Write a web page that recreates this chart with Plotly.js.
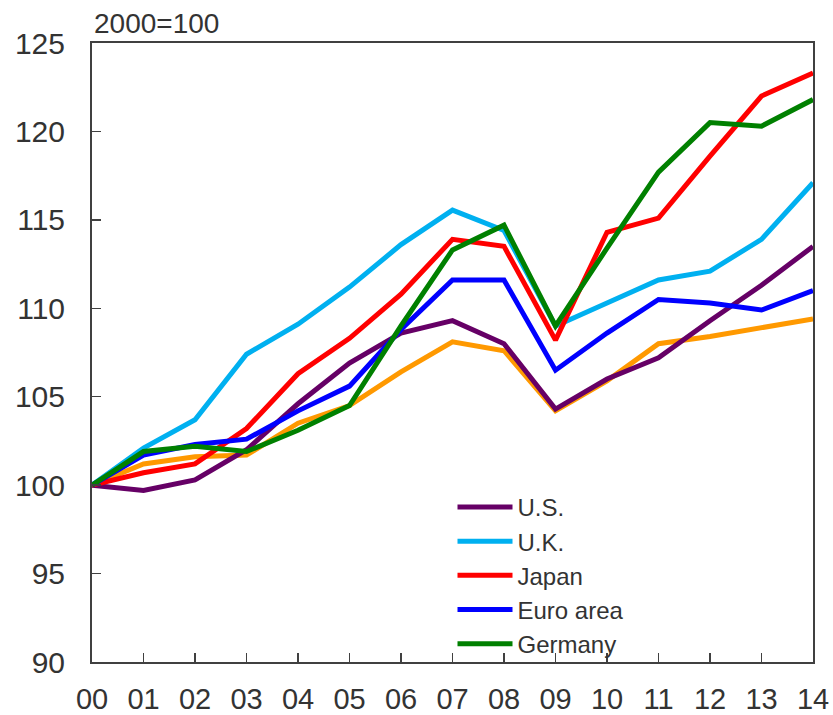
<!DOCTYPE html>
<html>
<head>
<meta charset="utf-8">
<script src="https://cdn.plot.ly/plotly-3.0.1.min.js"></script>
<style>html,body{margin:0;padding:0;background:#fff;}#chart{width:833px;height:715px;}</style>
</head>
<body>
<div id="chart"></div>
<script>
const years = ["00","01","02","03","04","05","06","07","08","09","10","11","12","13","14"];
const us      = [100, 99.7, 100.3, 102.0, 104.6, 106.9, 108.6, 109.3, 108.0, 104.3, 106.0, 107.2, 109.3, 111.3, 113.5];
const uk      = [100, 102.1, 103.7, 107.4, 109.1, 111.2, 113.6, 115.55, 114.4, 109.0, 110.3, 111.6, 112.1, 113.9, 117.1];
const japan   = [100, 100.7, 101.2, 103.2, 106.3, 108.3, 110.8, 113.9, 113.5, 108.2, 114.3, 115.1, 118.6, 122.0, 123.3];
const euro    = [100, 101.7, 102.3, 102.6, 104.2, 105.6, 108.8, 111.6, 111.6, 106.5, 108.6, 110.5, 110.3, 109.9, 111.0];
const germany = [100, 101.9, 102.2, 101.9, 103.1, 104.5, 109.0, 113.3, 114.7, 109.0, 113.4, 117.7, 120.5, 120.3, 121.8];
const other   = [100, 101.2, 101.6, 101.7, 103.5, 104.5, 106.4, 108.1, 107.6, 104.2, 105.9, 108.0, 108.4, 108.9, 109.4];
const names = ["U.S.", "U.K.", "Japan", "Euro area", "Germany"];
const yTicks = [90, 95, 100, 105, 110, 115, 120, 125];

const colors = ["#660066", "#00B0F0", "#FF0000", "#0000FF", "#008000", "#FF9900"];
const series = [us, uk, japan, euro, germany];

const traces = [];
traces.push({x: years, y: other, type: "scatter", mode: "lines", showlegend: false,
  line: {color: colors[5], width: 5}});
series.forEach((s, i) => {
  traces.push({x: years, y: s, type: "scatter", mode: "lines", name: names[i],
    line: {color: colors[i], width: 5}});
});
const layout = {
  width: 833, height: 715,
  margin: {l: 92, r: 20, t: 43, b: 53},
  paper_bgcolor: "#fff", plot_bgcolor: "#fff",
  font: {family: "Liberation Sans, Arial, sans-serif", color: "#333", size: 26},
  showlegend: true,
  legend: {x: 0.5, y: 0.14, xanchor: "left", yanchor: "middle", bgcolor: "rgba(0,0,0,0)",
    font: {size: 24, color: "#333"}, tracegroupgap: 0, itemwidth: 55, traceorder: "normal"},
  xaxis: {type: "category", range: [0, 14], showgrid: false, zeroline: false,
    showline: true, linecolor: "#404040", linewidth: 2, mirror: true,
    ticks: "inside", ticklen: 9, tickwidth: 1.5, tickcolor: "#404040",
    tickfont: {size: 29, color: "#333"}, ticklabelstandoff: 10},
  yaxis: {range: [90, 125], tickvals: yTicks, showgrid: false, zeroline: false,
    showline: true, linecolor: "#404040", linewidth: 2, mirror: true,
    ticks: "inside", ticklen: 9, tickwidth: 1.5, tickcolor: "#404040",
    tickfont: {size: 30, color: "#333"}, ticklabelstandoff: 19},
  annotations: [{text: "2000=100", xref: "paper", yref: "paper", x: 0, y: 1,
    xanchor: "left", yanchor: "bottom", xshift: 0, yshift: 2, showarrow: false,
    font: {size: 28, color: "#333"}}]
};
Plotly.newPlot("chart", traces, layout, {displayModeBar: false, staticPlot: true});
</script>
</body>
</html>
